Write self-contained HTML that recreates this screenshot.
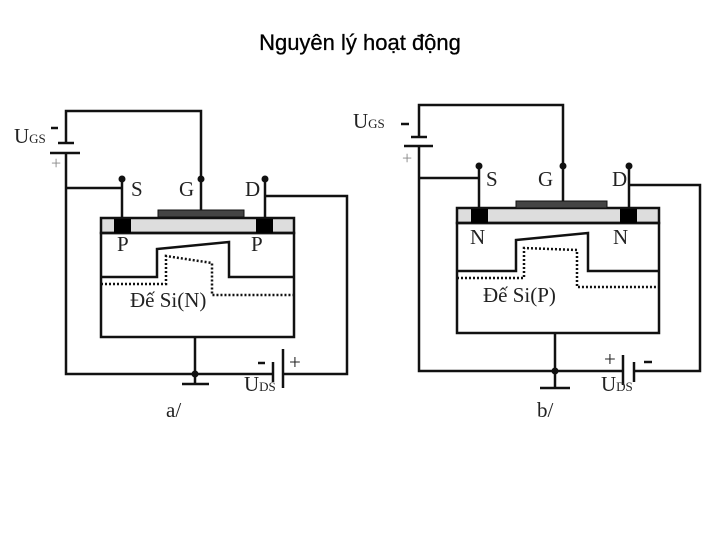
<!DOCTYPE html>
<html><head><meta charset="utf-8"><style>
body{margin:0;background:#fff;width:720px;height:540px;overflow:hidden}
svg{display:block}
.t{font-family:"Liberation Serif",serif;fill:#222}
</style></head><body>
<svg width="720" height="540" viewBox="0 0 720 540" xmlns="http://www.w3.org/2000/svg">
<text x="360" y="50" text-anchor="middle" font-family="Liberation Sans, sans-serif" font-size="22" fill="#000" stroke="#000" stroke-width="0.3">Nguyên lý hoạt động</text>

<!-- a/ -->
<g stroke="#111" stroke-width="2.5" fill="none">
<polyline points="66,143 66,111 201,111 201,210"/>
<line x1="58" y1="143" x2="74" y2="143"/>
<line x1="50" y1="153" x2="80" y2="153"/>
<polyline points="66,153 66,374 272,374"/>
<polyline points="66,188 122,188"/>
<line x1="122" y1="179" x2="122" y2="218"/>
<line x1="265" y1="179" x2="265" y2="218"/>
<polyline points="265,196 347,196 347,374 283,374"/>
<line x1="273" y1="362" x2="273" y2="382"/>
<line x1="283" y1="349" x2="283" y2="388"/>
<line x1="195" y1="337" x2="195" y2="384"/>
<line x1="182" y1="384" x2="209" y2="384"/>
<line x1="51" y1="128" x2="58" y2="128"/>
<line x1="258" y1="363" x2="265" y2="363"/>
</g>
<rect x="101" y="218" width="193" height="15" fill="#ddd" stroke="#111" stroke-width="2.5"/>
<rect x="101" y="233" width="193" height="104" fill="none" stroke="#111" stroke-width="2.5"/>
<rect x="114" y="219" width="17" height="14" fill="#000"/>
<rect x="256" y="219" width="17" height="14" fill="#000"/>
<rect x="158" y="210" width="86" height="7" fill="#444" stroke="#111" stroke-width="1"/>
<polyline points="101,277 157,277 157,249 229,242 229,277 294,277" fill="none" stroke="#111" stroke-width="2.5"/>
<polyline points="101,284 166,284 166,256 212,263 212,295 294,295" fill="none" stroke="#111" stroke-width="2.5" stroke-dasharray="2,2"/>
<g fill="#111"><circle cx="122" cy="179" r="3.5"/><circle cx="201" cy="179" r="3.5"/><circle cx="265" cy="179" r="3.5"/><circle cx="195" cy="374" r="3.5"/></g>
<g class="t" font-size="21">
<text x="14" y="143">U<tspan font-size="13">GS</tspan></text>
<text x="51" y="169" fill="#888" font-size="18">+</text>
<text x="131" y="196">S</text><text x="179" y="196">G</text><text x="245" y="196">D</text>
<text x="117" y="251">P</text><text x="251" y="251">P</text>
<text x="130" y="307">Đế Si(N)</text>
<text x="289" y="369">+</text>
<text x="244" y="391">U<tspan font-size="13">DS</tspan></text>
<text x="166" y="417">a/</text>
</g>

<!-- b/ -->
<g stroke="#111" stroke-width="2.5" fill="none">
<polyline points="419,137 419,105 563,105 563,201"/>
<line x1="411" y1="137" x2="427" y2="137"/>
<line x1="404" y1="146" x2="433" y2="146"/>
<polyline points="419,146 419,371 623,371"/>
<polyline points="419,178 479,178"/>
<line x1="479" y1="166" x2="479" y2="208"/>
<line x1="629" y1="166" x2="629" y2="208"/>
<polyline points="629,185 700,185 700,371 634,371"/>
<line x1="623" y1="355" x2="623" y2="385"/>
<line x1="634" y1="362" x2="634" y2="382"/>
<line x1="555" y1="333" x2="555" y2="388"/>
<line x1="540" y1="388" x2="570" y2="388"/>
<line x1="401" y1="124" x2="409" y2="124"/>
<line x1="644" y1="362" x2="652" y2="362"/>
</g>
<rect x="457" y="208" width="202" height="15" fill="#ddd" stroke="#111" stroke-width="2.5"/>
<rect x="457" y="223" width="202" height="110" fill="none" stroke="#111" stroke-width="2.5"/>
<rect x="471" y="209" width="17" height="14" fill="#000"/>
<rect x="620" y="209" width="17" height="14" fill="#000"/>
<rect x="516" y="201" width="91" height="7" fill="#444" stroke="#111" stroke-width="1"/>
<polyline points="457,271 516,271 516,240 588,233 588,271 659,271" fill="none" stroke="#111" stroke-width="2.5"/>
<polyline points="457,278 524,278 524,248 577,250 577,287 659,287" fill="none" stroke="#111" stroke-width="2.5" stroke-dasharray="2,2"/>
<g fill="#111"><circle cx="479" cy="166" r="3.5"/><circle cx="563" cy="166" r="3.5"/><circle cx="629" cy="166" r="3.5"/><circle cx="555" cy="371" r="3.5"/></g>
<g class="t" font-size="21">
<text x="353" y="128">U<tspan font-size="13">GS</tspan></text>
<text x="402" y="164" fill="#888" font-size="18">+</text>
<text x="486" y="186">S</text><text x="538" y="186">G</text><text x="612" y="186">D</text>
<text x="470" y="244">N</text><text x="613" y="244">N</text>
<text x="483" y="302">Đế Si(P)</text>
<text x="604" y="366">+</text>
<text x="601" y="391">U<tspan font-size="13">DS</tspan></text>
<text x="537" y="417">b/</text>
</g>
</svg>
</body></html>
